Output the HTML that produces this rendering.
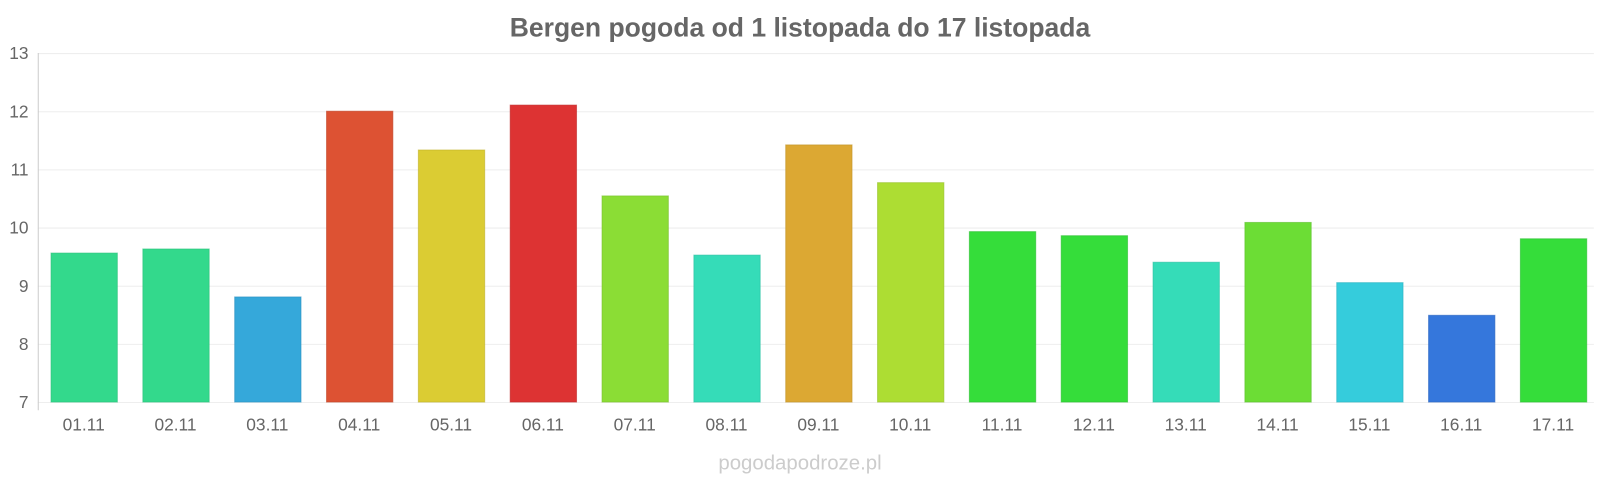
<!DOCTYPE html>
<html><head><meta charset="utf-8"><style>
body{margin:0;background:#fff;}
svg{display:block;font-family:"Liberation Sans",sans-serif;}
</style></head><body>
<svg width="1600" height="480" viewBox="0 0 1600 480">
<g transform="scale(1.0204)">
<text x="784" y="36" text-anchor="middle" font-size="26" font-weight="bold" fill="#666">Bergen pogoda od 1 listopada do 17 listopada</text>
<g stroke="#eee" stroke-width="1">
<line x1="37" x2="1562" y1="52.5" y2="52.5"/>
<line x1="37" x2="1562" y1="109.5" y2="109.5"/>
<line x1="37" x2="1562" y1="166.5" y2="166.5"/>
<line x1="37" x2="1562" y1="223.5" y2="223.5"/>
<line x1="37" x2="1562" y1="280.5" y2="280.5"/>
<line x1="37" x2="1562" y1="337.5" y2="337.5"/>
<line x1="37" x2="1562" y1="394.5" y2="394.5"/>
</g>
<line x1="37.5" x2="37.5" y1="52" y2="402" stroke="#ccc"/>
<g font-size="17" fill="#666" text-anchor="end">
<text x="28" y="58">13</text><text x="28" y="115">12</text><text x="28" y="172">11</text>
<text x="28" y="229">10</text><text x="28" y="286">9</text><text x="28" y="343">8</text><text x="28" y="400">7</text>
</g>
<g stroke-width="1" stroke-opacity="0.6">
<rect x="50" y="248" width="65" height="146" fill="#33d98c" stroke="#2bc07a"/>
<rect x="140" y="244" width="65" height="150" fill="#33d98c" stroke="#2bc07a"/>
<rect x="230" y="291" width="65" height="103" fill="#35a8da" stroke="#2a90c0"/>
<rect x="320" y="109" width="65" height="285" fill="#dd5233" stroke="#c04428"/>
<rect x="410" y="147" width="65" height="247" fill="#dbcc33" stroke="#c0b228"/>
<rect x="500" y="103" width="65" height="291" fill="#dd3333" stroke="#c02828"/>
<rect x="590" y="192" width="65" height="202" fill="#8bdd35" stroke="#78c02a"/>
<rect x="680" y="250" width="65" height="144" fill="#35dcb8" stroke="#2ac0a0"/>
<rect x="770" y="142" width="65" height="252" fill="#dca833" stroke="#c09228"/>
<rect x="860" y="179" width="65" height="215" fill="#addd33" stroke="#96c028"/>
<rect x="950" y="227" width="65" height="167" fill="#35dd3a" stroke="#2ac030"/>
<rect x="1040" y="231" width="65" height="163" fill="#35dd3a" stroke="#2ac030"/>
<rect x="1130" y="257" width="65" height="137" fill="#35dcb8" stroke="#2ac0a0"/>
<rect x="1220" y="218" width="65" height="176" fill="#6cdd35" stroke="#5ac02a"/>
<rect x="1310" y="277" width="65" height="117" fill="#35ccdc" stroke="#2ab2c0"/>
<rect x="1400" y="309" width="65" height="85" fill="#3577dc" stroke="#2a64c0"/>
<rect x="1490" y="234" width="65" height="160" fill="#35dd3a" stroke="#2ac030"/>
</g>
<g font-size="17" fill="#666" text-anchor="middle">
<text x="82" y="422">01.11</text><text x="172" y="422">02.11</text><text x="262" y="422">03.11</text>
<text x="352" y="422">04.11</text><text x="442" y="422">05.11</text><text x="532" y="422">06.11</text>
<text x="622" y="422">07.11</text><text x="712" y="422">08.11</text><text x="802" y="422">09.11</text>
<text x="892" y="422">10.11</text><text x="982" y="422">11.11</text><text x="1072" y="422">12.11</text>
<text x="1162" y="422">13.11</text><text x="1252" y="422">14.11</text><text x="1342" y="422">15.11</text>
<text x="1432" y="422">16.11</text><text x="1522" y="422">17.11</text>
</g>
<text x="784" y="460" text-anchor="middle" font-size="20" fill="#ccc">pogodapodroze.pl</text>
</g>
</svg>
</body></html>
